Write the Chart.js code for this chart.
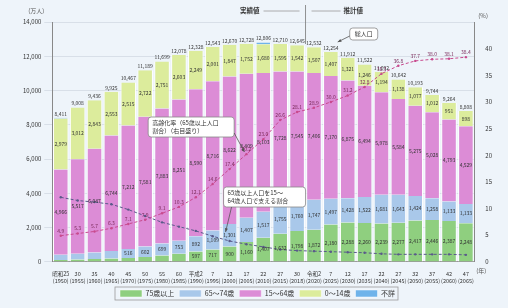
<!DOCTYPE html>
<html>
<head>
<meta charset="utf-8">
<script src="https://cdn.jsdelivr.net/npm/chart.js@4.4.1/dist/chart.umd.min.js"></script>
<style>
html, body { margin: 0; padding: 0; background: #eef4fa; }
#wrap { width: 508px; height: 308px; }
</style>
</head>
<body>
<div id="wrap"><canvas id="chart"></canvas></div>
<script>
// 年次（和暦）と西暦
const years = ['昭和25', '30', '35', '40', '45', '50', '55', '60', '平成2', '7', '12', '17', '22', '27', '30',
    '令和2', '7', '12', '17', '22', '27', '32', '37', '42', '47'];
const westYears = ['(1950)', '(1955)', '(1960)', '(1965)', '(1970)', '(1975)', '(1980)', '(1985)', '(1990)', '(1995)',
    '(2000)', '(2005)', '(2010)', '(2015)', '(2018)', '(2020)', '(2025)', '(2030)', '(2035)', '(2040)',
    '(2045)', '(2050)', '(2055)', '(2060)', '(2065)'];

// 人口（万人）
const age75over = [107, 138, 163, 189, 224, 284, 366, 471, 597, 717, 900, 1160, 1407, 1632, 1798,
    1872, 2180, 2288, 2260, 2239, 2277, 2417, 2446, 2387, 2248];
const age65to74 = [309, 338, 383, 439, 516, 602, 699, 753, 892, 1109, 1301, 1407, 1517, 1755, 1760,
    1747, 1497, 1428, 1522, 1681, 1643, 1424, 1258, 1133, 1133];
const age15to64 = [4966, 5517, 6047, 6744, 7212, 7581, 7883, 8251, 8590, 8716, 8622, 8409, 8103, 7728, 7545,
    7406, 7170, 6875, 6494, 5978, 5584, 5275, 5028, 4793, 4529];
const age0to14 = [2979, 3012, 2843, 2553, 2515, 2722, 2751, 2603, 2249, 2001, 1847, 1752, 1680, 1595, 1542,
    1507, 1407, 1321, 1246, 1194, 1138, 1077, 1012, 951, 898];
const unknown = [50, 3, 0, 0, 0, 0, 0, 0, 0, 0, 0, 0, 99, 0, 0,
    0, 0, 0, 0, 0, 0, 0, 0, 0, 0];

// 割合（％）と 支える人数
const agingRate = [4.9, 5.3, 5.7, 6.3, 7.1, 7.9, 9.1, 10.3, 12.1, 14.6, 17.4, 20.2, 23.0, 26.6, 28.1,
    28.9, 30.0, 31.2, 32.8, 35.3, 36.8, 37.7, 38.0, 38.1, 38.4];
const supportRatio = [12.1, 11.5, 11.2, 10.8, 9.8, 8.6, 7.4, 6.6, 5.8, 4.8, 3.9, 3.3, 2.8, 2.3, 2.1,
    2.0, 1.9, 1.8, 1.7, 1.5, 1.4, 1.4, 1.4, 1.4, 1.3];

const FONT = '"Noto Sans CJK JP", "Noto Sans", sans-serif';
const barCount = 5;

function roundBox(ctx, x, y, w, h, r) {
    ctx.beginPath();
    ctx.moveTo(x + r, y);
    ctx.arcTo(x + w, y, x + w, y + h, r);
    ctx.arcTo(x + w, y + h, x, y + h, r);
    ctx.arcTo(x, y + h, x, y, r);
    ctx.arcTo(x, y, x + w, y, r);
    ctx.closePath();
    ctx.fillStyle = '#fff';
    ctx.fill();
    ctx.strokeStyle = '#888';
    ctx.lineWidth = 0.8;
    ctx.stroke();
}

function arrow(ctx, x1, y1, x2, y2) {
    ctx.beginPath();
    ctx.moveTo(x1, y1);
    ctx.lineTo(x2, y2);
    ctx.strokeStyle = '#555';
    ctx.lineWidth = 0.8;
    ctx.stroke();
    const a = Math.atan2(y2 - y1, x2 - x1);
    ctx.beginPath();
    ctx.moveTo(x2, y2);
    ctx.lineTo(x2 - 4 * Math.cos(a - 0.4), y2 - 4 * Math.sin(a - 0.4));
    ctx.lineTo(x2 - 4 * Math.cos(a + 0.4), y2 - 4 * Math.sin(a + 0.4));
    ctx.closePath();
    ctx.fillStyle = '#555';
    ctx.fill();
}

const labelsPlugin = {
    id: 'labelsPlugin',
    afterDatasetsDraw(chart) {
        const ctx = chart.ctx;
        const area = chart.chartArea;
        const xs = chart.scales.x;
        ctx.save();
        ctx.font = '5px ' + FONT;
        ctx.textAlign = 'center';
        ctx.textBaseline = 'middle';
        ctx.fillStyle = '#333';
        // segment values
        for (let i = 0; i < 4; i++) {
            const meta = chart.getDatasetMeta(i);
            meta.data.forEach((bar, j) => {
                const h = Math.abs(bar.base - bar.y);
                if (h < 8) return;
                const v = chart.data.datasets[i].data[j];
                ctx.fillText(v.toLocaleString(), bar.x, (bar.y + bar.base) / 2);
            });
        }
        // totals
        const topMeta = chart.getDatasetMeta(barCount - 1);
        topMeta.data.forEach((bar, j) => {
            const total = age75over[j] + age65to74[j] + age15to64[j] + age0to14[j] + unknown[j];
            ctx.fillText(total.toLocaleString(), bar.x, bar.y - 4);
        });
        // aging rate values
        const rateMeta = chart.getDatasetMeta(5);
        ctx.fillStyle = '#7a2a5a';
        rateMeta.data.forEach((pt, j) => {
            ctx.fillText(agingRate[j].toFixed(1), pt.x, pt.y - 5);
        });

        // 実績値 | 推計値
        const sepX = (xs.getPixelForValue(14) + xs.getPixelForValue(15)) / 2;
        ctx.strokeStyle = '#777';
        ctx.lineWidth = 0.8;
        ctx.beginPath();
        ctx.moveTo(sepX, 5);
        ctx.lineTo(sepX, 44);
        ctx.stroke();
        ctx.font = 'bold 6.5px ' + FONT;
        ctx.fillStyle = '#333';
        ctx.textAlign = 'right';
        ctx.fillText('実績値', sepX - 46, 11);
        ctx.textAlign = 'left';
        ctx.fillText('推計値', sepX + 38, 11);
        ctx.strokeStyle = '#999';
        ctx.beginPath();
        ctx.moveTo(sepX - 42, 11); ctx.lineTo(sepX - 6, 11);
        ctx.moveTo(sepX + 6, 11); ctx.lineTo(sepX + 35, 11);
        ctx.stroke();

        // 総人口
        ctx.font = '6px ' + FONT;
        const bx = xs.getPixelForValue(17) + 2;
        roundBox(ctx, bx, 28, 28, 12, 3);
        ctx.fillStyle = '#333';
        ctx.textAlign = 'center';
        ctx.fillText('総人口', bx + 14, 34);
        arrow(ctx, bx, 36, bx - 12, 42);

        // 高齢化率
        const rx = xs.getPixelForValue(5) + 3;
        roundBox(ctx, rx, 117, 86, 20, 3);
        ctx.fillStyle = '#333';
        ctx.textAlign = 'left';
        ctx.fillText('高齢化率（65歳以上人口', rx + 4, 123);
        ctx.fillText('割合）（右目盛り）', rx + 4, 131);
        arrow(ctx, rx + 86, 133, xs.getPixelForValue(11) - 2, 152);

        // 支える割合
        const sx = xs.getPixelForValue(10) - 6;
        roundBox(ctx, sx, 187, 82, 20, 3);
        ctx.fillStyle = '#333';
        ctx.fillText('65歳以上人口を15～', sx + 4, 193);
        ctx.fillText('64歳人口で支える割合', sx + 4, 201);
        arrow(ctx, sx + 8, 207, sx + 2, 232);

        // axis captions
        ctx.font = '6px ' + FONT;
        ctx.textAlign = 'right';
        ctx.fillText('(万人)', area.left - 8, 11);
        ctx.textAlign = 'left';
        ctx.fillText('(%)', area.right + 4, 16);
        ctx.fillText('(年)', area.right + 2, area.bottom + 9);
        ctx.restore();
    },
    afterDraw(chart) {
        const boxes = chart.legend.legendHitBoxes;
        if (!boxes || !boxes.length) return;
        const ctx = chart.ctx;
        let l = Infinity, r = -Infinity, t = Infinity, b = -Infinity;
        boxes.forEach(h => {
            l = Math.min(l, h.left); r = Math.max(r, h.left + h.width);
            t = Math.min(t, h.top); b = Math.max(b, h.top + h.height);
        });
        ctx.save();
        ctx.strokeStyle = '#999';
        ctx.lineWidth = 0.8;
        ctx.strokeRect(l - 5, t - 3, r - l + 8, b - t + 6);
        ctx.restore();
    }
};

const ctx = document.getElementById('chart');

new Chart(ctx, {
    type: 'bar',
    data: {
        labels: years.map((y, i) => [y, westYears[i]]),
        datasets: [
            { label: '75歳以上', data: age75over, backgroundColor: '#8fcf7f', order: 1 },
            { label: '65～74歳', data: age65to74, backgroundColor: '#a9c8ea', order: 1 },
            { label: '15～64歳', data: age15to64, backgroundColor: '#dc8cd6', order: 1 },
            { label: '0～14歳', data: age0to14, backgroundColor: '#dcec9c', order: 1 },
            { label: '不詳', data: unknown, backgroundColor: '#6fb3ea', order: 1 },
            {
                type: 'line', label: '高齢化率', data: agingRate, yAxisID: 'y2', order: 0,
                borderColor: '#c84a8e', borderWidth: 1, borderDash: [3, 2],
                pointRadius: 1.2, pointBackgroundColor: '#c84a8e', pointBorderWidth: 0
            },
            {
                type: 'line', label: '支える割合', data: supportRatio, yAxisID: 'y2', order: 0,
                borderColor: '#5a5a8a', borderWidth: 1, borderDash: [3, 2],
                pointRadius: 1.2, pointBackgroundColor: '#5a5a8a', pointBorderWidth: 0
            }
        ].map(d => d.type ? d : Object.assign(d, {
            borderColor: '#ffffff', borderWidth: { left: 1, right: 1 },
            barPercentage: 0.92, categoryPercentage: 1.0, borderSkipped: false
        }))
    },
    options: {
        responsive: true,
        maintainAspectRatio: false,
        animation: false,
        layout: { padding: { top: 22, left: 20, right: 13, bottom: 1 } },
        plugins: {
            tooltip: { enabled: false },
            legend: {
                position: 'bottom',
                labels: {
                    font: { size: 7, family: FONT },
                    color: '#333',
                    boxWidth: 22,
                    boxHeight: 7,
                    padding: 5,
                    filter: item => item.datasetIndex < barCount
                }
            }
        },
        scales: {
            x: {
                stacked: true,
                grid: { display: false },
                border: { color: '#999' },
                ticks: {
                    autoSkip: false, maxRotation: 0, padding: 1,
                    font: { size: 5.5, family: FONT }, color: '#333'
                }
            },
            y: {
                stacked: true,
                min: 0,
                max: 14000,
                grid: { color: 'rgba(170,180,195,0.45)', lineWidth: 0.7 },
                border: { color: '#888' },
                ticks: {
                    stepSize: 2000,
                    font: { size: 6, family: FONT }, color: '#333',
                    callback: v => v.toLocaleString()
                }
            },
            y2: {
                position: 'right',
                min: 0,
                max: 45,
                grid: { display: false },
                border: { color: '#888' },
                ticks: {
                    stepSize: 5,
                    font: { size: 6, family: FONT }, color: '#333',
                    callback: v => v === 45 ? '' : v
                }
            }
        }
    },
    plugins: [labelsPlugin]
});
</script>
</body>
</html>
